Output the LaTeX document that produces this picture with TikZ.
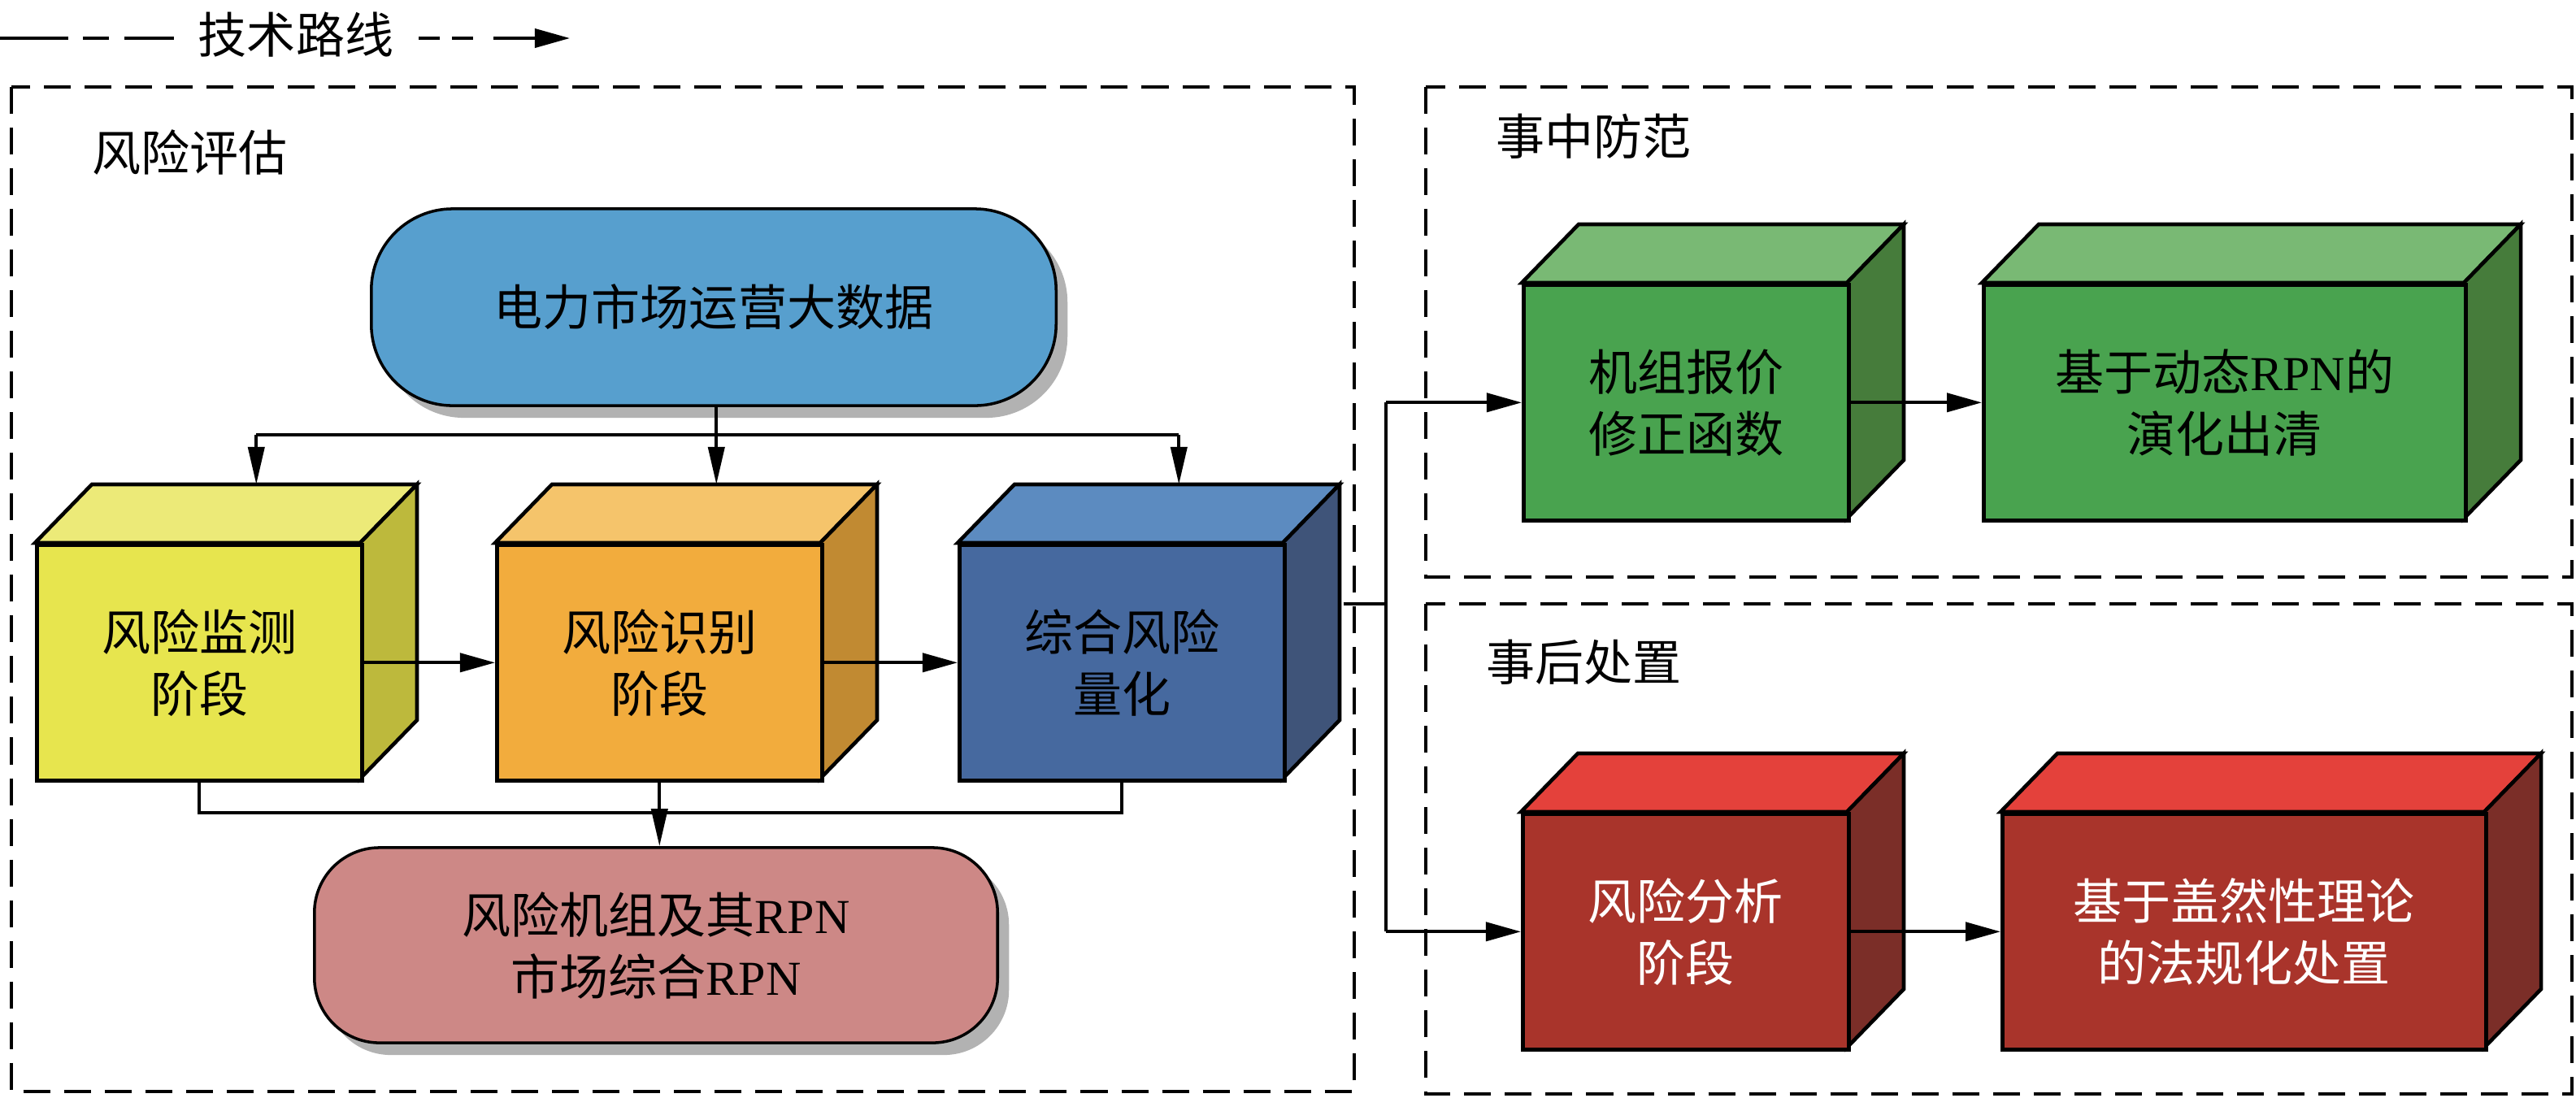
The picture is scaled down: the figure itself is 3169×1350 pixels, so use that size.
\documentclass[tikz,border=0pt]{standalone}
\usepackage{fontspec}
\setmainfont{Liberation Serif}
\newfontfamily\cjk{Noto Sans CJK SC}
\usetikzlibrary{arrows.meta,calc,shadows}

\definecolor{yfront}{HTML}{E7E54E}
\definecolor{ytop}{HTML}{ECEA78}
\definecolor{yside}{HTML}{BDB93C}
\definecolor{ofront}{HTML}{F2AC3D}
\definecolor{otop}{HTML}{F5C46B}
\definecolor{oside}{HTML}{C18A32}
\definecolor{bfront}{HTML}{46699F}
\definecolor{btop}{HTML}{5C8BC0}
\definecolor{bside}{HTML}{3F5479}
\definecolor{gfront}{HTML}{49A34F}
\definecolor{gtop}{HTML}{79B974}
\definecolor{gside}{HTML}{467C3B}
\definecolor{rfront}{HTML}{A9342B}
\definecolor{rtop}{HTML}{E4413B}
\definecolor{rside}{HTML}{7B2E28}
\definecolor{datablue}{HTML}{579FCE}
\definecolor{pinkc}{HTML}{CD8886}
\definecolor{shadowgray}{HTML}{B2B2B2}

\newcommand{\zhsize}{\fontsize{17.07pt}{21.6pt}\selectfont}
\newcommand{\rpn}{{\rmfamily RPN}}

\tikzset{
  cubeline/.style={draw=black,line width=1.3pt},
  cubefront/.style={cubeline,inner sep=0pt,align=center,font=\cjk\zhsize},
  conn/.style={draw=black,line width=1.1pt},
  arrV/.style={conn,-{Triangle[length=4.6mm,width=2mm]}},
  arrH/.style={conn,-{Triangle[length=4.3mm,width=2.3mm]}},
  groupframe/.style={draw=black,line width=1.15pt,dash pattern=on 3.3mm off 1.7mm},
  grouptitle/.style={font=\cjk\zhsize,inner sep=0pt,anchor=west},
  roundbox/.style={draw=black,line width=1pt,align=center,font=\cjk\zhsize,inner sep=0pt,
    drop shadow={shadow xshift=0.14cm,shadow yshift=-0.15cm,fill=shadowgray,opacity=1}},
  legendline/.style={draw=black,line width=1.1pt}
}

% #1 name, #2 x, #3 y (front top-left), #4 width, #5 height, #6 colour prefix, #7 text, #8 extra options
\newcommand{\cubebox}[8]{%
  \path[cubeline,fill=#6top] (#2,#3) -- ++(70,-72) -- ++(#4,0) -- ++(-70,72) -- cycle;
  \path[cubeline,fill=#6side] ({#2+#4},#3) -- ++(70,-72) -- ++(0,#5) -- ++(-70,72) -- cycle;
  \node[cubefront,fill=#6front,minimum width=#4*0.01cm,minimum height=#5*0.01cm,anchor=north west,#8] (#1) at (#2,#3) {#7};
  \coordinate (#1-top) at ($(#1.north)+(70,-72)$);
  \coordinate (#1-side) at ($(#1.east)+(70,-72)$);
}

\begin{document}
\begin{tikzpicture}[x=0.01cm,y=-0.01cm]
\useasboundingbox (0,0) rectangle (3169,1350);

% legend
\node[grouptitle,anchor=center] (legend) at (364,43) {技术路线};
\draw[legendline] (0,47) -- (84,47);
\draw[legendline] (102,47) -- (134,47);
\draw[legendline] (153,47) -- (214,47);
\draw[legendline] (515,47) -- (541,47);
\draw[legendline] (556,47) -- (582,47);
\draw[legendline,-{Triangle[length=4.3mm,width=2.3mm]}] (607,47) -- (701,47);

% group frames
\draw[groupframe] (14,107) rectangle (1666,1343);
\draw[groupframe] (1754,107) rectangle (3164,710);
\draw[groupframe] (1754,743) rectangle (3164,1346);

\node[grouptitle] (t1) at (113,187) {风险评估};
\node[grouptitle] (t2) at (1840,168) {事中防范};
\node[grouptitle] (t3) at (1828,815) {事后处置};

% data box
\node[roundbox,fill=datablue,minimum width=8.42cm,minimum height=2.42cm,rounded corners=1cm] (data) at (878,378) {电力市场运营大数据};

% cubes
\cubebox{mon}{43}{668}{400}{290}{y}{风险监测\\阶段}{}
\cubebox{idf}{609}{668}{400}{290}{o}{风险识别\\阶段}{}
\cubebox{quant}{1178}{668}{400}{290}{b}{综合风险\\量化}{}
\cubebox{bid}{1872}{348}{400}{290}{g}{机组报价\\修正函数}{}
\cubebox{clear}{2438}{348}{593}{290}{g}{基于动态\rpn 的\\演化出清}{}
\cubebox{ana}{1871}{999}{401}{290}{r}{风险分析\\阶段}{text=white}
\cubebox{law}{2461}{999}{595}{290}{r}{基于盖然性理论\\的法规化处置}{text=white}

% result box
\node[roundbox,fill=pinkc,minimum width=8.40cm,minimum height=2.40cm,rounded corners=0.8cm] (res) at (807,1163) {风险机组及其\rpn\\市场综合\rpn};

% connectors: data -> stages
\coordinate (tbus) at (0,535);
\draw[arrV] (data.south -| idf-top) -- (idf-top);
\draw[conn] (tbus -| mon-top) -- (tbus -| quant-top);
\draw[arrV] (tbus -| mon-top) -- (mon-top);
\draw[arrV] (tbus -| quant-top) -- (quant-top);

% stage chain
\draw[arrH] (mon.east) -- (idf.west);
\draw[arrH] (idf.east) -- (quant.west);

% stages -> result
\coordinate (pbus) at (0,1000);
\draw[conn] (mon.south) |- (pbus -| idf.south);
\draw[conn] (quant.south) |- (pbus -| idf.south);
\draw[arrV] (idf.south) -- (idf.south |- res.north);

% quantification -> right groups
\coordinate (vbus) at (1705,742);
\draw[conn] (quant-side) -- (vbus |- quant-side);
\draw[conn] (vbus |- bid.west) -- (vbus |- ana.west);
\draw[arrH] (vbus |- bid.west) -- (bid.west);
\draw[arrH] (vbus |- ana.west) -- (ana.west);
\draw[arrH] (bid.east) -- (clear.west);
\draw[arrH] (ana.east) -- (law.west);
\end{tikzpicture}
\end{document}
